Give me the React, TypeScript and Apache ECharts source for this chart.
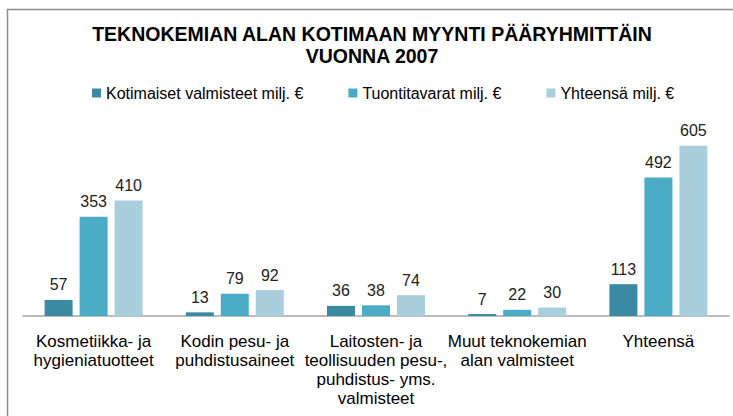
import React, { useEffect, useRef } from "react";
import * as echarts from "echarts";

const categories = [
  "Kosmetiikka- ja\nhygieniatuotteet",
  "Kodin pesu- ja\npuhdistusaineet",
  "Laitosten- ja\nteollisuuden pesu-,\npuhdistus- yms.\nvalmisteet",
  "Muut teknokemian\nalan valmisteet",
  "Yhteensä",
];
const seriesNames = [
  "Kotimaiset valmisteet milj. €",
  "Tuontitavarat milj. €",
  "Yhteensä milj. €",
];
const kotimaiset = [57, 13, 36, 7, 113];
const tuonti = [353, 79, 38, 22, 492];
const yhteensa = [410, 92, 74, 30, 605];
const colors = ["#3A8AA1", "#4BACC6", "#A9CFDD"];

export default function App() {
  const ref = useRef<HTMLDivElement>(null);
  useEffect(() => {
    if (!ref.current) return;
    const chart = echarts.init(ref.current, null, { renderer: "svg" });
    const font = "'Liberation Sans', Arial, sans-serif";
    const values = [kotimaiset, tuonti, yhteensa];
    chart.setOption({
      animation: false,
      textStyle: { fontFamily: font },
      title: {
        text: "TEKNOKEMIAN ALAN KOTIMAAN MYYNTI PÄÄRYHMITTÄIN\nVUONNA 2007",
        left: 367,
        textAlign: "center",
        top: 18,
        textStyle: {
          fontFamily: font,
          fontSize: 19.5,
          fontWeight: "bold",
          color: "#000",
          lineHeight: 22,
        },
      },
      legend: {
        top: 80,
        left: 87,
        itemWidth: 9,
        itemHeight: 9,
        itemGap: 45,
        icon: "rect",
        textStyle: { fontFamily: font, fontSize: 16, color: "#000" },
        data: seriesNames,
      },
      grid: { left: 23, right: 4, top: 119, bottom: 100, containLabel: false },
      xAxis: {
        type: "category",
        data: categories,
        axisLine: { lineStyle: { color: "#A6A6A6", width: 1.5 } },
        axisTick: { show: false },
        axisLabel: {
          interval: 0,
          fontFamily: font,
          fontSize: 17,
          color: "#000",
          lineHeight: 19,
          margin: 16,
        },
      },
      yAxis: {
        type: "value",
        min: 0,
        max: 700,
        show: false,
        splitLine: { show: false },
      },
      graphic: [
        {
          type: "line",
          shape: { x1: 7, y1: 9.5, x2: 733, y2: 9.5 },
          style: { stroke: "#8C8C8C", lineWidth: 1.5 },
        },
        {
          type: "line",
          shape: { x1: 7.5, y1: 9, x2: 7.5, y2: 416 },
          style: { stroke: "#8C8C8C", lineWidth: 1.5 },
        },
      ],
      series: seriesNames.map((name, i) => ({
        name,
        type: "bar",
        data: values[i],
        barWidth: 28,
        barGap: "25%",
        itemStyle: { color: colors[i] },
        label: {
          show: true,
          position: "top",
          distance: 7,
          fontFamily: font,
          fontSize: 16,
          color: "#222",
        },
      })),
    });
    return () => chart.dispose();
  }, []);
  return (
    <div
      ref={ref}
      style={{ position: "fixed", left: 0, top: 0, width: 733, height: 416, background: "#fff" }}
    />
  );
}
